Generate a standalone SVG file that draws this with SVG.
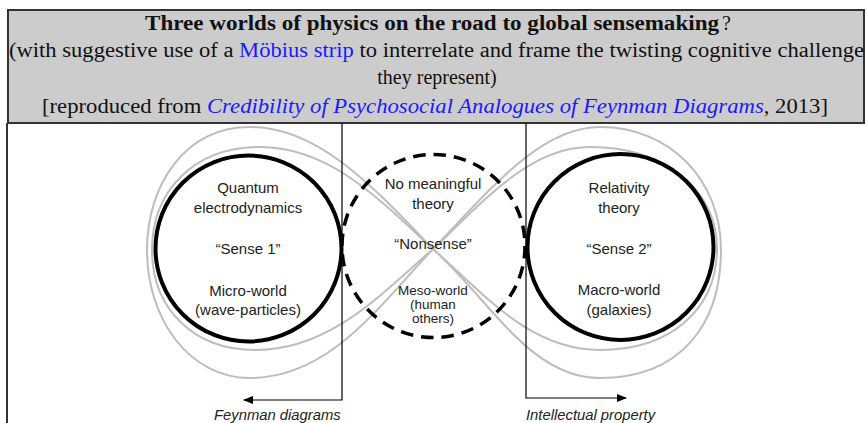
<svg xmlns="http://www.w3.org/2000/svg" width="866" height="423" viewBox="0 0 866 423">
<defs>
<style>
.hdr{font-family:"Liberation Serif","Times New Roman",serif;font-size:20px;fill:#111}
.lnk{fill:#1a1aff}
.lbl{font-family:"Liberation Sans",Arial,sans-serif;font-size:15px;fill:#222;text-anchor:middle}
.sm{font-size:13.5px}
.ax{font-family:"Liberation Sans",Arial,sans-serif;font-size:14.8px;font-style:italic;fill:#222}
.strip{fill:none;stroke:#bdbdbd;stroke-width:2}
.ring{fill:none;stroke:#000;stroke-width:4}
.dash{fill:none;stroke:#000;stroke-width:3.5;stroke-dasharray:12.5 8}
.axis{fill:none;stroke:#000;stroke-width:1.2}
</style>
<marker id="ah" viewBox="0 0 10 10" refX="9" refY="5" markerWidth="10" markerHeight="10" markerUnits="userSpaceOnUse" orient="auto">
<path d="M0,1 L10,5 L0,9 Z" fill="#000"/>
</marker>
</defs>
<rect x="0" y="0" width="866" height="423" fill="#fff"/>
<g id="header">
<rect x="8" y="10" width="856" height="113" fill="#cccccc" stroke="#333" stroke-width="2"/>
<line x1="7" y1="123" x2="7" y2="423" stroke="#333" stroke-width="2"/>
<text class="hdr" x="145" y="30" textLength="574" lengthAdjust="spacingAndGlyphs" font-weight="bold">Three worlds of physics on the road to global sensemaking</text>
<text class="hdr" x="722" y="30"> ?</text>
<text class="hdr" x="9" y="57" textLength="855" lengthAdjust="spacingAndGlyphs">(with suggestive use of a <tspan class="lnk">Möbius strip</tspan> to interrelate and frame the twisting cognitive challenge</text>
<text class="hdr" x="437" y="84" text-anchor="middle">they represent)</text>
<text class="hdr" x="42" y="113" textLength="786" lengthAdjust="spacingAndGlyphs">[reproduced from <tspan class="lnk" font-style="italic">Credibility of Psychosocial Analogues of Feynman Diagrams</tspan>, 2013]</text>
</g>
<g id="connectors">
<path class="strip" d="M433,249 C490,190 540,127 600,127 C670,127 721,180 721,250 C721,325 680,378 600,378 C530,378 490,300 433,249 C376,190 320,127 250,127 C185,127 147,185 147,250 C147,320 190,378 250,378 C330,378 380,305 433,249 Z"/>
<path class="strip" d="M433,249 C485,200 530,147 590,147 C665,147 717,190 717,248 C717,310 670,350 600,350 C530,350 485,295 433,249 C380,200 330,147 260,147 C195,147 152,190 152,250 C152,310 195,350 255,350 C330,350 380,295 433,249 Z"/>
<polyline class="axis" points="342,123 342,400 244,400" marker-end="url(#ah)"/>
<polyline class="axis" points="526,123 526,398 626,398" marker-end="url(#ah)"/>
</g>
<g id="micro">
<circle class="ring" cx="248.5" cy="248.5" r="93"/>
<text class="lbl" x="248" y="193">Quantum</text>
<text class="lbl" x="248" y="213">electrodynamics</text>
<text class="lbl" x="248" y="254">“Sense 1”</text>
<text class="lbl" x="248" y="296">Micro-world</text>
<text class="lbl" x="248" y="315">(wave-particles)</text>
</g>
<g id="meso">
<circle class="dash" cx="433.5" cy="246" r="91.5"/>
<text class="lbl" x="433" y="189">No meaningful</text>
<text class="lbl" x="433" y="209">theory</text>
<text class="lbl" x="433" y="249">“Nonsense”</text>
<text class="lbl sm" x="433" y="295">Meso-world</text>
<text class="lbl sm" x="433" y="309">(human</text>
<text class="lbl sm" x="433" y="323">others)</text>
</g>
<g id="macro">
<circle class="ring" cx="620.5" cy="247" r="93"/>
<text class="lbl" x="619" y="193">Relativity</text>
<text class="lbl" x="619" y="213">theory</text>
<text class="lbl" x="619" y="254">“Sense 2”</text>
<text class="lbl" x="619" y="295">Macro-world</text>
<text class="lbl" x="619" y="315">(galaxies)</text>
</g>
<g id="axis-labels">
<text class="ax" x="214" y="420">Feynman diagrams</text>
<text class="ax" x="526" y="420">Intellectual property</text>
</g>
</svg>
